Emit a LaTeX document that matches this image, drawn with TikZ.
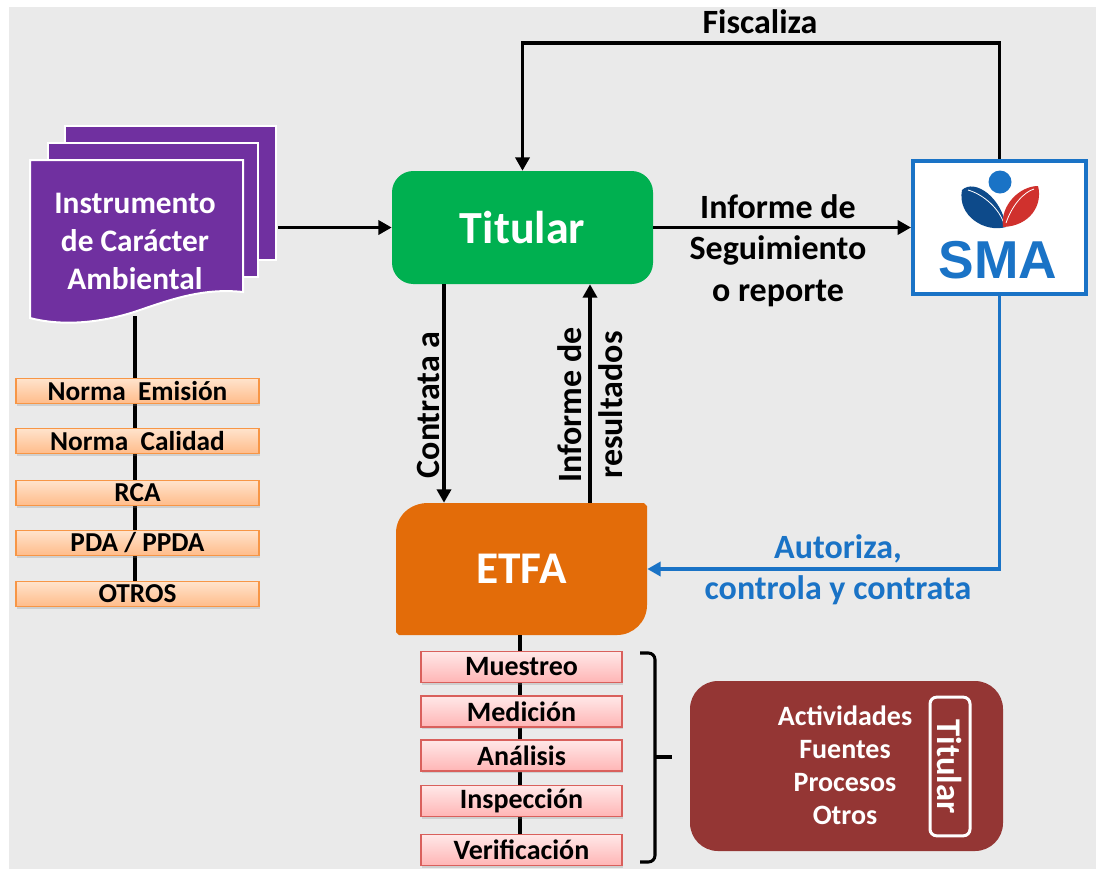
\documentclass[tikz,border=0pt]{standalone}
\usepackage{fontspec}
\setmainfont{Carlito}
\newfontfamily\smafont{Liberation Sans}
\usetikzlibrary{arrows.meta,shadows}
\definecolor{bggray}{HTML}{EAEAEA}
\definecolor{docpurple}{HTML}{7030A0}
\definecolor{titgreen}{HTML}{00B050}
\definecolor{etfaorange}{HTML}{E36C09}
\definecolor{smablue}{HTML}{1A73C6}
\definecolor{leafblue}{HTML}{0D4A8A}
\definecolor{leafred}{HTML}{D0312D}
\definecolor{maroonbox}{HTML}{943634}
\definecolor{normborder}{HTML}{F79646}
\definecolor{normtop}{HTML}{FFE3CC}
\definecolor{normbot}{HTML}{FFBC8A}
\definecolor{pinkborder}{HTML}{D9605C}
\definecolor{pinktop}{HTML}{FFE8E8}
\definecolor{pinkbot}{HTML}{FFB5B5}
\tikzset{
  conn/.style={line width=2.8pt, black},
  arr/.style={conn, -{Triangle[length=10pt,width=10.5pt]}},
  bluearr/.style={line width=2.8pt, smablue, -{Triangle[length=10pt,width=10.5pt]}},
  lbl/.style={font=\fontsize{25.5}{31}\selectfont\bfseries, align=center, inner sep=0pt},
  normbox/.style={draw=normborder, line width=1.2pt, top color=normtop, bottom color=normbot,
    minimum width=182.25pt, minimum height=18.75pt, inner sep=0pt,
    font=\fontsize{20.5}{22}\selectfont\bfseries,
    drop shadow={shadow xshift=1pt, shadow yshift=-1.5pt, opacity=0.25}},
  actbox/.style={draw=pinkborder, line width=1.2pt, top color=pinktop, bottom color=pinkbot,
    minimum width=150.75pt, minimum height=23.25pt, inner sep=0pt,
    font=\fontsize{21}{23}\selectfont\bfseries,
    drop shadow={shadow xshift=1pt, shadow yshift=-1.5pt, opacity=0.25}},
  sheet/.style={fill=docpurple, draw=white, line width=1.5pt}
}
\begin{document}
\begin{tikzpicture}[x=0.75pt,y=-0.75pt]
\useasboundingbox (0,0) rectangle (1096,869);
\fill[white] (0,0) rectangle (1096,869);
\fill[bggray] (9,7) rectangle (1096,869);

% document stack
\filldraw[sheet] (65,126) rectangle (276,260);
\filldraw[sheet] (48,143) rectangle (258,277);
\filldraw[sheet] (30,160) -- (243,160) -- (243,292)
  .. controls (205,288) and (175,298) .. (140,310)
  .. controls (100,324) and (60,326) .. (30,318) -- cycle;
\node[font=\fontsize{23.5}{28.5}\selectfont\bfseries, text=white, align=center, inner sep=0pt] (doc) at (135,241) {Instrumento\\de Carácter\\Ambiental};

\coordinate (docbot) at (135,316);
\coordinate (normend) at (135,594);
\draw[conn, line width=2.4pt] (docbot) -- (normend);
\node[normbox] (nemi) at (137.5,391) {Norma\ \ Emisión};
\node[normbox] (ncal) at (137.5,441) {Norma\ \ Calidad};
\node[normbox] (rca) at (137.5,493) {RCA};
\node[normbox] (pda) at (137.5,543) {PDA / PPDA};
\node[normbox] (otros) at (137.5,594) {OTROS};

% Titular
\node[fill=titgreen, rounded corners=16pt, minimum width=195.75pt, minimum height=84.75pt, inner sep=0pt,
  text=white, font=\fontsize{34.5}{40}\selectfont\bfseries] (titular) at (522.5,227.5) {Titular};

% SMA
\node[draw=smablue, line width=3pt, fill=white, minimum width=129.75pt, minimum height=99.75pt, inner sep=0pt] (sma) at (999.5,227) {};
\fill[smablue] (1000,182) circle[radius=11.5];
\fill[leafblue] (962,190) .. controls (975,178) and (1002,198) .. (1006,227)
  .. controls (985,233) and (957,216) .. cycle;
\draw[white, line width=0.6pt] (968,190) .. controls (985,195) and (1000,210) .. (1004,224);
\fill[leafred] (1003,227) .. controls (1000,205) and (1020,186) .. (1038,186)
  .. controls (1043,205) and (1030,226) .. cycle;
\draw[white, line width=0.6pt] (1006,223) .. controls (1012,205) and (1024,192) .. (1034,189);
\node[text=smablue, font=\smafont\fontsize{40}{44}\selectfont\bfseries, inner sep=0pt] (smatext) at (998,260) {SMA};

% ETFA
\fill[etfaorange] (428,503) -- (644,503) -- (647,506) -- (647,605)
  .. controls (647,622) and (633,635) .. (617,635) -- (399,635) -- (396,632) -- (396,533)
  .. controls (396,516) and (410,503) .. cycle;
\node[minimum width=188.25pt, minimum height=99pt, inner sep=0pt, text=white,
  font=\fontsize{34}{40}\selectfont\bfseries] (etfa) at (521.5,569) {ETFA};

% connectors
\coordinate (docout) at (278,227.5);
\draw[arr] (docout) -- (titular.west);
\coordinate (fisc) at (760,43);
\draw[arr] (sma.north) |- (fisc) -| (titular.north);
\node[lbl] (fisclbl) at (760,22) {Fiscaliza};
\draw[arr] (titular.east) -- (titular.east -| sma.west);
\node[lbl] (infseg) at (778,250.5) {Informe de\\Seguimiento\\o reporte};
\coordinate (cx) at (444,0);
\coordinate (rx) at (590,0);
\draw[arr] (titular.south -| cx) -- (etfa.north -| cx);
\draw[arr] (etfa.north -| rx) -- (titular.south -| rx);
\node[lbl, rotate=90] (contr) at (428,405) {Contrata a};
\node[lbl, rotate=90] (infres) at (590,405) {Informe de\\resultados};
\draw[bluearr] (sma.south) |- (etfa.east);
\node[lbl, text=smablue] (autor) at (838,570) {Autoriza,\\controla y contrata};

% activities
\coordinate (actend) at (520,850);
\draw[conn, line width=2.4pt] (etfa.south -| actend) -- (actend);
\node[actbox] (mue) at (521.5,667) {Muestreo};
\node[actbox] (med) at (521.5,711.5) {Medición};
\node[actbox] (ana) at (521.5,755.5) {Análisis};
\node[actbox] (ins) at (521.5,801) {Inspección};
\node[actbox] (ver) at (521.5,850) {Verificación};

% bracket
\draw[conn, line width=2.3pt, rounded corners=5pt] (640,653) -- (655,653) -- (655,862) -- (640,862);
\draw[conn, line width=2.3pt] (655,757) -- (672,757);

% scope box
\node[fill=maroonbox, rounded corners=21pt, minimum width=234.75pt, minimum height=127.5pt, inner sep=0pt] (scopebox) at (846.5,766) {};
\node[text=white, font=\fontsize{21}{24.75}\selectfont\bfseries, align=center, inner sep=0pt] (acts) at (845,765) {Actividades\\Fuentes\\Procesos\\Otros};
\node[draw=white, line width=2.25pt, rounded corners=5pt, minimum width=30pt, minimum height=104pt, inner sep=0pt] (titbox) at (950,766.5) {};
\node[rotate=-90, text=white, font=\fontsize{26}{30}\selectfont\bfseries, inner sep=0pt] (tittxt) at (950,766.5) {Titular};
\end{tikzpicture}
\end{document}
